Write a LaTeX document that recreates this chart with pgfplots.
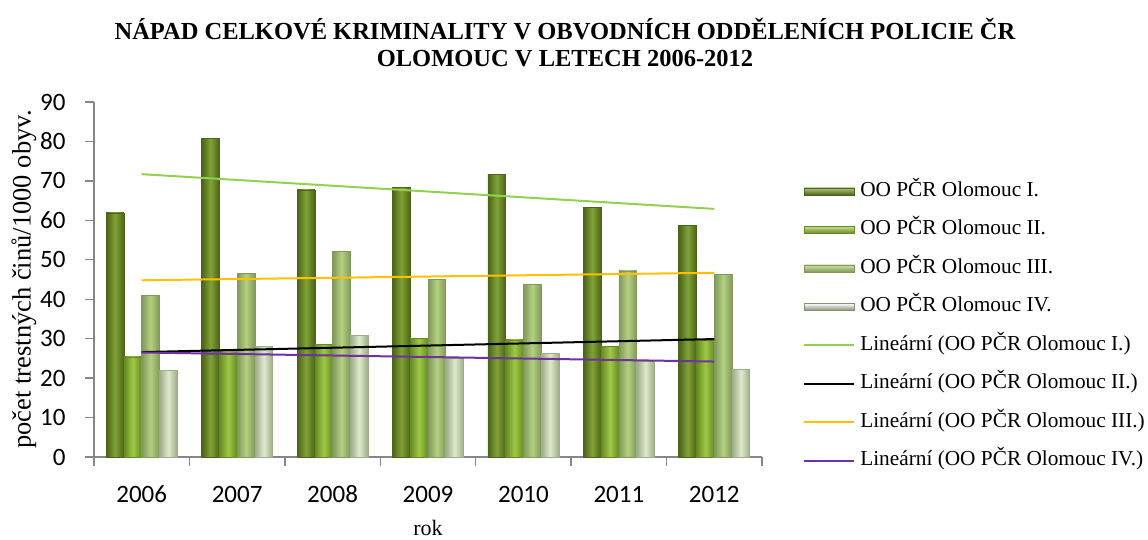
\documentclass[border=0pt]{standalone}
\usepackage{pgfplots}
\pgfplotsset{compat=1.18}
\usepackage{fontspec}
\setmainfont{Liberation Serif}
\newfontfamily\carlito{Carlito}
\definecolor{axisgray}{HTML}{868686}
\definecolor{eA}{HTML}{4A6419}\definecolor{mA}{HTML}{82A236}
\definecolor{eB}{HTML}{668A22}\definecolor{mB}{HTML}{A0C846}
\definecolor{eC}{HTML}{80995A}\definecolor{mC}{HTML}{B4D080}
\definecolor{eD}{HTML}{9CAB88}\definecolor{mD}{HTML}{DEEACB}
\definecolor{trA}{HTML}{92D050}
\definecolor{trC}{HTML}{FFC000}
\definecolor{trD}{HTML}{7030A0}
% one shaded bar: shift, edge colour, middle colour, x, value
\newcommand\shbar[5]{\addplot[ybar, bar width=0.186, bar shift=#1, draw=#2, line width=0.6pt,
  left color=#2, right color=#2, middle color=#3, forget plot] coordinates {(#4,#5)};}
\begin{document}
\begin{tikzpicture}[x=1pt,y=1pt]
\useasboundingbox (0,0) rectangle (1148,540);
\node[font=\bfseries\fontsize{24.5}{27}\selectfont, anchor=base] at (565,500.7)
  {NÁPAD CELKOVÉ KRIMINALITY V OBVODNÍCH ODDĚLENÍCH POLICIE ČR};
\node[font=\bfseries\fontsize{24.5}{27}\selectfont, anchor=base] at (565,473.7)
  {OLOMOUC V LETECH 2006-2012};
\begin{axis}[
  at={(94pt,83pt)}, anchor=south west,
  scale only axis, width=668pt, height=355pt,
  xmin=-0.5, xmax=6.5, ymin=0, ymax=90,
  axis x line*=bottom, axis y line*=left,
  axis line style={axisgray, line width=1.3pt},
  every tick/.style={axisgray, line width=1.3pt},
  tick align=outside,
  xtick={0,...,6},
  xticklabels={2006,2007,2008,2009,2010,2011,2012},
  major x tick style={draw=none},
  minor xtick={-0.5,0.5,...,6.5},
  minor tick length=9pt, major tick length=9pt,
  ytick={0,10,...,90},
  /pgf/number format/assume math mode=true,
  ticklabel style={font=\carlito\fontsize{25}{30}\selectfont},
  xticklabel style={anchor=base, yshift=-37pt},
  yticklabel style={xshift=-16pt},
  ylabel={počet trestných činů/1000 obyv.},
  ylabel style={at={(axis description cs:-0.105,0.5)}, anchor=center, rotate=0, font=\fontsize{26.5}{30}\selectfont},
  xlabel={rok},
  xlabel style={at={(axis description cs:0.5,-0.220)}, anchor=base, inner sep=0pt, font=\fontsize{22}{26}\selectfont},
  legend style={at={(axis description cs:1.0615,0.777)}, anchor=north west, draw=none, fill=none,
    inner sep=0pt, font=\fontsize{21.3}{25}\selectfont,
    nodes={inner sep=0pt, text height=15pt, text depth=5pt, anchor=west},
    row sep=18.5pt, column sep=5pt},
  legend cell align=left,
  legend image code/.code={\draw[#1] (0pt,0pt) -- (50pt,0pt);},
  clip=false,
]
% OO PCR Olomouc I.
\shbar{-0.279}{eA}{mA}{0}{61.9}
\shbar{-0.279}{eA}{mA}{1}{80.8}
\shbar{-0.279}{eA}{mA}{2}{67.7}
\shbar{-0.279}{eA}{mA}{3}{68.4}
\shbar{-0.279}{eA}{mA}{4}{71.7}
\shbar{-0.279}{eA}{mA}{5}{63.3}
\shbar{-0.279}{eA}{mA}{6}{58.7}
% OO PCR Olomouc II.
\shbar{-0.093}{eB}{mB}{0}{25.4}
\shbar{-0.093}{eB}{mB}{1}{27.3}
\shbar{-0.093}{eB}{mB}{2}{28.6}
\shbar{-0.093}{eB}{mB}{3}{30.1}
\shbar{-0.093}{eB}{mB}{4}{29.7}
\shbar{-0.093}{eB}{mB}{5}{28.0}
\shbar{-0.093}{eB}{mB}{6}{29.5}
% OO PCR Olomouc III.
\shbar{0.093}{eC}{mC}{0}{40.9}
\shbar{0.093}{eC}{mC}{1}{46.6}
\shbar{0.093}{eC}{mC}{2}{52.2}
\shbar{0.093}{eC}{mC}{3}{45.1}
\shbar{0.093}{eC}{mC}{4}{43.8}
\shbar{0.093}{eC}{mC}{5}{47.2}
\shbar{0.093}{eC}{mC}{6}{46.3}
% OO PCR Olomouc IV.
\shbar{0.279}{eD}{mD}{0}{21.9}
\shbar{0.279}{eD}{mD}{1}{28.0}
\shbar{0.279}{eD}{mD}{2}{30.9}
\shbar{0.279}{eD}{mD}{3}{25.0}
\shbar{0.279}{eD}{mD}{4}{26.3}
\shbar{0.279}{eD}{mD}{5}{24.2}
\shbar{0.279}{eD}{mD}{6}{22.2}
\addlegendimage{legend image code/.code={\shade[top color=mA!60!white, bottom color=eA, draw=eA] (0pt,-3.5pt) rectangle (50pt,3.5pt);}}
\addlegendentry{OO PČR Olomouc I.}
\addlegendimage{legend image code/.code={\shade[top color=mB!60!white, bottom color=eB, draw=eB] (0pt,-3.5pt) rectangle (50pt,3.5pt);}}
\addlegendentry{OO PČR Olomouc II.}
\addlegendimage{legend image code/.code={\shade[top color=mC!60!white, bottom color=eC, draw=eC] (0pt,-3.5pt) rectangle (50pt,3.5pt);}}
\addlegendentry{OO PČR Olomouc III.}
\addlegendimage{legend image code/.code={\shade[top color=white, bottom color=eD!85!black, draw=eD!85!black] (0pt,-3.5pt) rectangle (50pt,3.5pt);}}
\addlegendentry{OO PČR Olomouc IV.}
\addplot[trA, line width=2pt] coordinates {(0,71.7) (6,62.9)};
\addlegendentry{Lineární (OO PČR Olomouc I.)}
\addplot[black, line width=2pt] coordinates {(0,26.6) (6,29.9)};
\addlegendentry{Lineární (OO PČR Olomouc II.)}
\addplot[trC, line width=2pt] coordinates {(0,44.8) (6,46.7)};
\addlegendentry{Lineární (OO PČR Olomouc III.)}
\addplot[trD, line width=2pt] coordinates {(0,26.5) (6,24.2)};
\addlegendentry{Lineární (OO PČR Olomouc IV.)}
\end{axis}
\end{tikzpicture}
\end{document}
